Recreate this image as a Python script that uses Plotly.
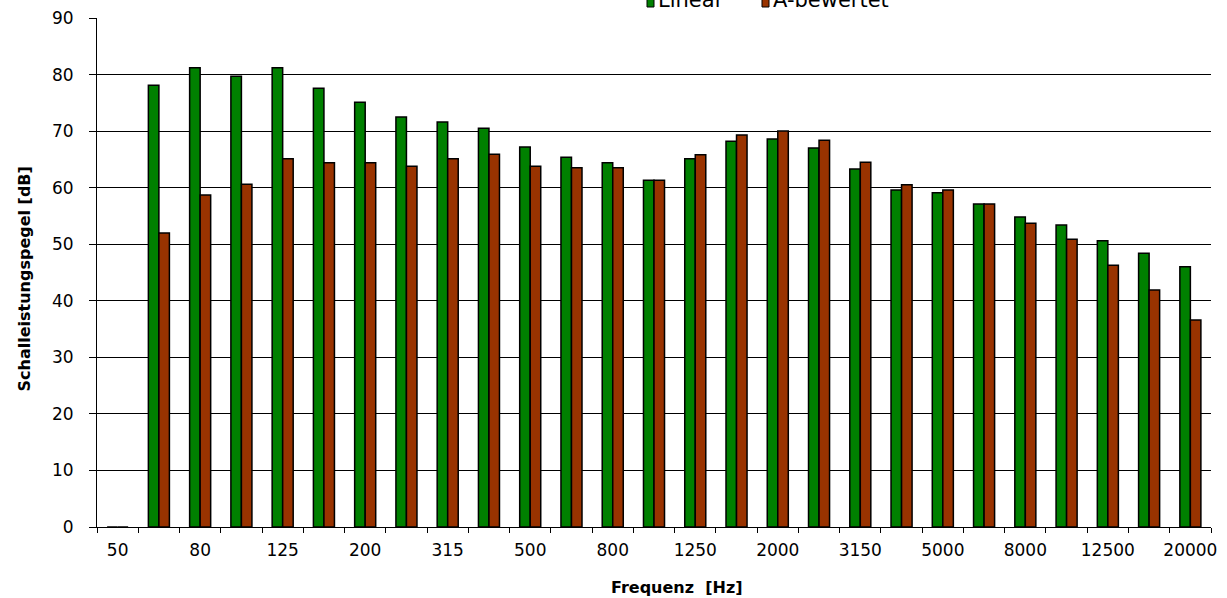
import plotly.graph_objects as go

# Third-octave band centre frequencies [Hz]
bands = ["50", "63", "80", "100", "125", "160", "200", "250", "315", "400",
         "500", "630", "800", "1000", "1250", "1600", "2000", "2500", "3150",
         "4000", "5000", "6300", "8000", "10000", "12500", "16000", "20000"]

# Sound power level per band [dB]
linear = [0.0, 78.1, 81.2, 79.7, 81.2, 77.6, 75.1, 72.5, 71.6, 70.5,
          67.2, 65.4, 64.4, 61.3, 65.1, 68.2, 68.6, 67.0, 63.3,
          59.6, 59.1, 57.1, 54.8, 53.4, 50.6, 48.4, 46.0]
a_weighted = [0.0, 52.0, 58.7, 60.6, 65.1, 64.4, 64.4, 63.8, 65.1, 65.9,
              63.8, 63.5, 63.5, 61.3, 65.8, 69.3, 70.0, 68.4, 64.5,
              60.5, 59.6, 57.1, 53.7, 50.9, 46.3, 41.9, 36.6]

# Only every second band carries a label
tick_text = [b if i % 2 == 0 else "" for i, b in enumerate(bands)]

GREEN = "#008000"
RUST = "#993300"
FONT = "DejaVu Sans, Arial, sans-serif"

W, H = 1227, 598
ML, MR, MT, MB = 97, 16, 18, 71
PW, PH = W - ML - MR, H - MT - MB


def px_x(x):
    return (x - ML) / PW


def px_y(y):
    return (H - MB - y) / PH


fig = go.Figure()
fig.add_trace(go.Bar(x=bands, y=linear, name="Linear",
                     marker=dict(color=GREEN, line=dict(color="black", width=1.5))))
fig.add_trace(go.Bar(x=bands, y=a_weighted, name="A-bewertet",
                     marker=dict(color=RUST, line=dict(color="black", width=1.5))))

# Legend drawn as swatches + labels along the top edge
legend_items = [("Linear", GREEN, 647), ("A-bewertet", RUST, 762)]
shapes = []
annotations = []
for label, color, x0 in legend_items:
    shapes.append(dict(type="rect", xref="paper", yref="paper",
                       x0=px_x(x0), x1=px_x(x0 + 7), y0=px_y(7), y1=px_y(-1),
                       fillcolor=color, line=dict(color="black", width=1)))
    annotations.append(dict(text=label, xref="paper", yref="paper",
                            x=px_x(x0 + 9), y=px_y(0), xanchor="left", yanchor="middle",
                            showarrow=False, font=dict(family=FONT, size=21, color="black")))

annotations.append(dict(text="Frequenz\u00a0 [Hz]", xref="paper", yref="paper",
                        x=px_x(677), y=px_y(587), xanchor="center", yanchor="middle",
                        showarrow=False,
                        font=dict(family=FONT, size=16, color="black", weight="bold")))
annotations.append(dict(text="Schalleistungspegel [dB]", xref="paper", yref="paper",
                        x=px_x(23.5), y=px_y(279), xanchor="center", yanchor="middle",
                        textangle=-90, showarrow=False,
                        font=dict(family=FONT, size=16, color="black", weight="bold")))

fig.update_layout(
    width=W, height=H,
    margin=dict(l=ML, r=MR, t=MT, b=MB, pad=0),
    paper_bgcolor="white", plot_bgcolor="white",
    barmode="group", bargap=0.49, bargroupgap=0,
    showlegend=False,
    font=dict(family=FONT, size=16, color="black"),
    shapes=shapes, annotations=annotations,
    xaxis=dict(type="category", tickmode="array", tickvals=bands, ticktext=tick_text,
               tickson="boundaries", ticks="outside", ticklen=5, tickcolor="black",
               tickwidth=1, showline=True, linecolor="black", linewidth=1,
               showgrid=False, ticklabelstandoff=8, tickangle=0, automargin=False,
               tickfont=dict(family=FONT, size=17, color="black")),
    yaxis=dict(range=[0, 90], tick0=0, dtick=10, ticks="outside", ticklen=7,
               tickcolor="black", tickwidth=1, showline=True, linecolor="black",
               linewidth=1, showgrid=True, gridcolor="black", gridwidth=1,
               zeroline=False, ticklabelstandoff=12, automargin=False,
               tickfont=dict(family=FONT, size=17, color="black")),
)

fig.write_html("out.html")
